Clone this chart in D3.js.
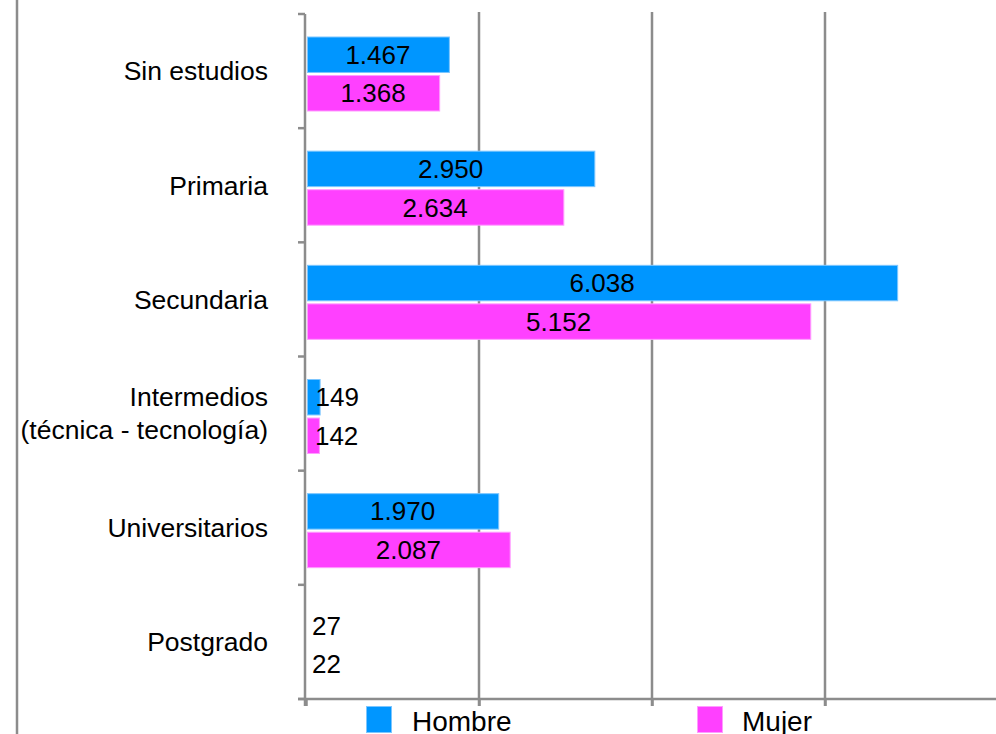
<!DOCTYPE html>
<html>
<head>
<meta charset="utf-8">
<script src="https://cdn.jsdelivr.net/npm/d3@7"></script>
<style>
  body { margin: 0; background: #fff; }
  text { font-family: "Liberation Sans", Arial, sans-serif; fill: #000; }
</style>
</head>
<body>
<div id="chart"></div>
<script>
// data
var categories = ['Sin estudios', 'Primaria', 'Secundaria', 'Intermedios\n(técnica - tecnología)', 'Universitarios', 'Postgrado']
var series = ['Hombre', 'Mujer']
var hombre = [1467, 2950, 6038, 149, 1970, 27]
var mujer = [1368, 2634, 5152, 142, 2087, 22]
var colors = ['#0096ff', '#ff40ff']
var strokes = ['#7cc6ff', '#ff9cff']

var width = 996
var height = 734
var gridColor = '#8c8c8c'

var svg = d3.select('#chart').append('svg')
    .attr('width', width)
    .attr('height', height)

// left frame line
svg.append('line')
    .attr('x1', 17).attr('x2', 17)
    .attr('y1', 0).attr('y2', height)
    .attr('stroke', gridColor).attr('stroke-width', 2.5)

var xMax = 7056
var x = d3.scaleLinear().domain([0, xMax]).range([306, 998])
var y = d3.scaleBand().domain(categories).range([14, 699])
var sub = d3.scaleBand().domain(series).range([23, 97]).paddingInner(0.08)

var tickVals = d3.range(0, 5).map(function (i) { return xMax * i / 4 })

// vertical grid lines
svg.selectAll('.grid')
    .data(tickVals.slice(1))
    .enter()
    .append('line')
    .attr('x1', function (d) { return x(d) })
    .attr('x2', function (d) { return x(d) })
    .attr('y1', 12)
    .attr('y2', 706)
    .attr('stroke', gridColor)
    .attr('stroke-width', 2.5)

// x axis at bottom
var xAxis = svg.append('g')
    .attr('transform', 'translate(0,699)')
    .call(d3.axisBottom(x).tickValues(tickVals).tickSize(7).tickSizeOuter(0).tickFormat(''))
xAxis.select('.domain').remove()
xAxis.selectAll('line').attr('stroke', gridColor).attr('stroke-width', 2.5)
svg.append('line')
    .attr('x1', 298).attr('x2', width)
    .attr('y1', 699).attr('y2', 699)
    .attr('stroke', gridColor).attr('stroke-width', 2.5)

// y axis with ticks between categories
var yTicks = categories.map(function (c) { return y(c) }).concat([y.range()[1]])
svg.append('line')
    .attr('x1', 305).attr('x2', 305)
    .attr('y1', 14).attr('y2', 706)
    .attr('stroke', gridColor).attr('stroke-width', 2.5)
svg.selectAll('.ytick')
    .data(yTicks)
    .enter()
    .append('line')
    .attr('x1', 298).attr('x2', 305)
    .attr('y1', function (d) { return d })
    .attr('y2', function (d) { return d })
    .attr('stroke', gridColor).attr('stroke-width', 2.5)

// category labels
var catLabels = svg.selectAll('.cat')
    .data(categories)
    .enter()
    .append('text')
    .attr('text-anchor', 'end')
    .style('font-size', '26.5px')
catLabels.each(function (c) {
    var lines = c.split('\n')
    var cy = y(c) + y.bandwidth() / 2
    var t = d3.select(this)
    lines.forEach(function (l, i) {
        t.append('tspan')
            .attr('x', 268)
            .attr('y', cy + (i - (lines.length - 1) / 2) * 33)
            .attr('dy', '0.35em')
            .text(l)
    })
})

var fmt = function (v) { return d3.format(',')(v).replace(/,/g, '.') }

var rows = categories.map(function (c, i) {
    return [{ cat: c, s: 'Hombre', v: hombre[i], k: 0 }, { cat: c, s: 'Mujer', v: mujer[i], k: 1 }]
})
var flat = [].concat.apply([], rows)

// bars too thin to show are hidden behind the axis in the original
svg.selectAll('.bar')
    .data(flat.filter(function (d) { return x(d.v) - x(0) > 4 }))
    .enter()
    .append('rect')
    .attr('x', x(0) + 1.5)
    .attr('y', function (d) { return y(d.cat) + sub(d.s) })
    .attr('width', function (d) { return x(d.v) - x(0) - 2 })
    .attr('height', sub.bandwidth())
    .attr('fill', function (d) { return colors[d.k] })
    .attr('stroke', function (d) { return strokes[d.k] })
    .attr('stroke-width', 1)

svg.selectAll('.val')
    .data(flat)
    .enter()
    .append('text')
    .style('font-size', '26px')
    .attr('dy', '0.35em')
    .attr('y', function (d) { return y(d.cat) + sub(d.s) + sub.bandwidth() / 2 })
    .attr('x', function (d) {
        var w = x(d.v) - x(0)
        if (w > 80) return x(0) + w / 2
        return Math.max(x(d.v) - 5, x(0) + 6)
    })
    .attr('text-anchor', function (d) { return (x(d.v) - x(0)) > 80 ? 'middle' : 'start' })
    .text(function (d) { return fmt(d.v) })

// legend
var legendX = [366, 697]
var leg = svg.selectAll('.leg')
    .data(series)
    .enter()
    .append('g')
    .attr('transform', function (d, i) { return 'translate(' + legendX[i] + ',706)' })
leg.append('rect')
    .attr('x', 0.5).attr('y', 0.5)
    .attr('width', 25).attr('height', 26)
    .attr('fill', function (d, i) { return colors[i] })
    .attr('stroke', function (d, i) { return strokes[i] })
leg.append('text')
    .attr('x', function (d, i) { return i === 0 ? 46 : 45 })
    .attr('y', 25)
    .style('font-size', '28px')
    .text(function (d) { return d })
</script>
</body>
</html>
